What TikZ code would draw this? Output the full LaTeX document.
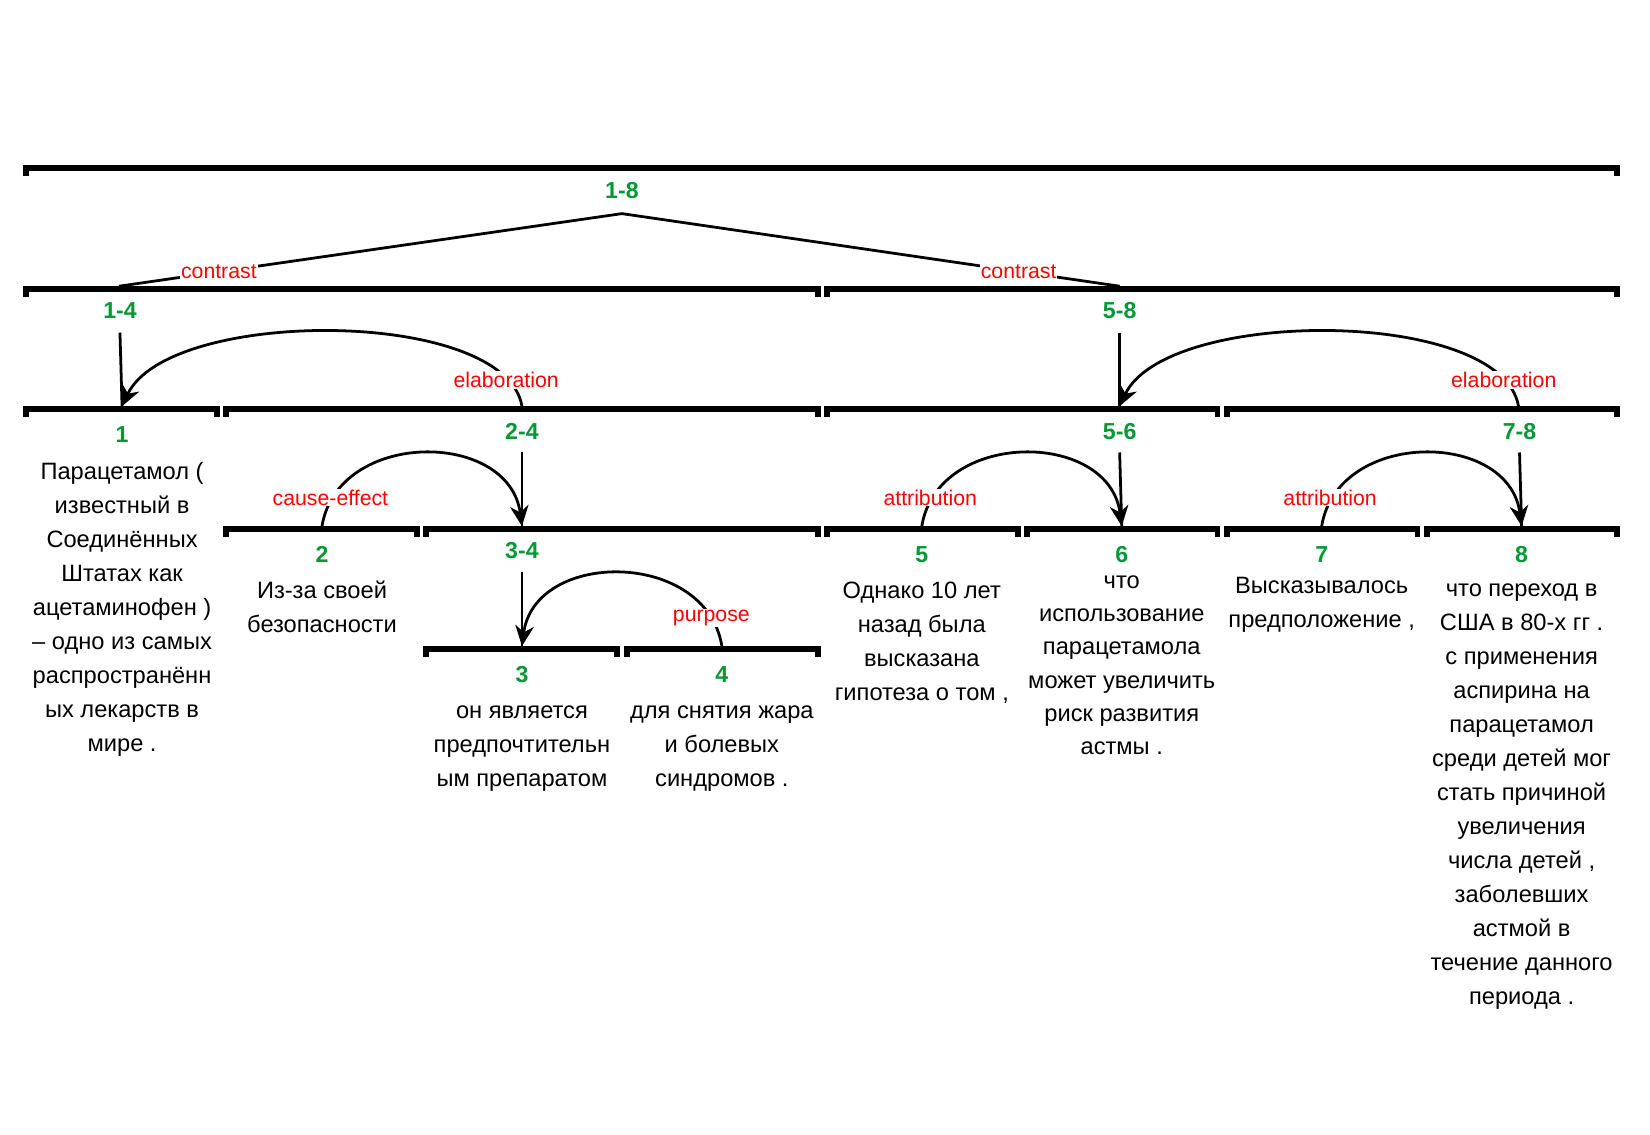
\documentclass[tikz,border=0pt]{standalone}
\usepackage{fontspec}
\setmainfont{Liberation Sans}
\usetikzlibrary{arrows.meta}
\definecolor{spangreen}{RGB}{0,153,51}

\begin{document}
\begin{tikzpicture}[x=0.02cm, y=-0.02cm,
    bar/.style={line width=3.2pt, line cap=butt, line join=miter},
    link/.style={line width=1.5pt},
    rel/.style={line width=1.5pt, -{Stealth[length=11pt, width=10pt, inset=3.5pt]}},
    span/.style={font=\bfseries\fontsize{12.5}{14}\selectfont, text=spangreen, inner sep=1pt},
    relname/.style={font=\fontsize{11.5}{13}\selectfont, text=red, fill=white, inner sep=0.5pt},
    edu/.style={font=\fontsize{12.8}{18.4}\selectfont, align=center, anchor=north, inner sep=0pt}
]
    \useasboundingbox (0,0) rectangle (1568,1078);
    % Span bars
    \foreach \a/\b/\y in {25/1537/160, 25/777/275, 786/1537/275,
        25/206/389, 215/777/389, 786/1157/389, 1166/1537/389,
        215/396/503, 405/777/503, 786/967/503, 976/1157/503,
        1166/1347/503, 1356/1537/503, 405/586/617, 596/777/617} {
        \draw[bar] (\a,\y+7) -- (\a,\y) -- (\b,\y) -- (\b,\y+7);
    }
    % Span numbers
    \node[span] (s18) at (591,181) {1-8};
    \node[span] (s14) at (114,295) {1-4};
    \node[span] (s58) at (1064,295) {5-8};
    \node[span] (s1) at (116,413) {1};
    \node[span] (s24) at (496,410) {2-4};
    \node[span] (s56) at (1064,410) {5-6};
    \node[span] (s78) at (1444,410) {7-8};
    \node[span] (s2) at (306,527) {2};
    \node[span] (s34) at (496,523) {3-4};
    \node[span] (s5) at (876,527) {5};
    \node[span] (s6) at (1066,527) {6};
    \node[span] (s7) at (1256,527) {7};
    \node[span] (s8) at (1446,527) {8};
    \node[span] (s3) at (496,641) {3};
    \node[span] (s4) at (686,641) {4};
    % Heads under the numbers and feet on the bars
    \coordinate (h18) at (591,203);
    \coordinate (h14) at (114,316);
    \coordinate (h58) at (1064,316);
    \coordinate (h24) at (496,430);
    \coordinate (h56) at (1064,430);
    \coordinate (h78) at (1444,430);
    \coordinate (h34) at (496,544);
    \coordinate (p14) at (113,272);
    \coordinate (p58) at (1064,272);
    \coordinate (p1) at (116,386);
    \coordinate (p24) at (496,386);
    \coordinate (p56) at (1064,386);
    \coordinate (p78) at (1443,386);
    \coordinate (p2) at (306,500);
    \coordinate (p34) at (496,500);
    \coordinate (p5) at (876,500);
    \coordinate (p6) at (1066,500);
    \coordinate (p7) at (1256,500);
    \coordinate (p8) at (1446,500);
    \coordinate (p3) at (496,614);
    \coordinate (p4) at (686,614);
    % Multinuclear links
    \draw[link] (h18) -- (p14);
    \draw[link] (h18) -- (p58);
    % Nucleus stems
    \draw[link] (h14) -- (p1);
    \draw[link] (h58) -- (p56);
    \draw[link] (h24) -- (p34);
    \draw[link] (h56) -- (p6);
    \draw[link] (h78) -- (p8);
    \draw[link] (h34) -- (p3);
    % Satellite arcs
    \draw[rel] (p24) .. controls +(-16,-94) and +(44,-94) .. (p1);
    \draw[rel] (p78) .. controls +(-16,-94) and +(44,-94) .. (p56);
    \draw[rel] (p2) .. controls +(15,-92) and +(-12,-92) .. (p34);
    \draw[rel] (p5) .. controls +(15,-92) and +(-12,-92) .. (p6);
    \draw[rel] (p7) .. controls +(15,-92) and +(-12,-92) .. (p8);
    \draw[rel] (p4) .. controls +(-15,-92) and +(12,-92) .. (p3);
    % Relation names
    \node[relname] (r1) at (208,258) {contrast};
    \node[relname] (r2) at (968,258) {contrast};
    \node[relname] (r3) at (481,361) {elaboration};
    \node[relname] (r4) at (1429,361) {elaboration};
    \node[relname] (r5) at (314,473) {cause-effect};
    \node[relname] (r6) at (884,473) {attribution};
    \node[relname] (r7) at (1264,473) {attribution};
    \node[relname] (r8) at (676,587) {purpose};
    % Elementary units
    \node[edu] (e1) at (116,439) {Парацетамол (\\ известный в\\ Соединённых\\ Штатах как\\ ацетаминофен )\\ – одно из самых\\ распространённ\\ ых лекарств в\\ мире .};
    \node[edu] (e2) at (306,552) {Из-за своей\\ безопасности};
    \node[edu] (e3) at (496,670) {он является\\ предпочтительн\\ ым препаратом};
    \node[edu] (e4) at (686,670) {для снятия жара\\ и болевых\\ синдромов .};
    \node[edu] (e5) at (876,553) {Однако 10 лет\\ назад была\\ высказана\\ гипотеза о том ,};
    \node[edu, font=\fontsize{12.8}{17.9}\selectfont] (e6) at (1066,547) {что\\ использование\\ парацетамола\\ может увеличить\\ риск развития\\ астмы .};
    \node[edu] (e7) at (1256,548) {Высказывалось\\ предположение ,};
    \node[edu] (e8) at (1446,554) {что переход в\\ США в 80-х гг .\\ с применения\\ аспирина на\\ парацетамол\\ среди детей мог\\ стать причиной\\ увеличения\\ числа детей ,\\ заболевших\\ астмой в\\ течение данного\\ периода .};
\end{tikzpicture}
\end{document}
